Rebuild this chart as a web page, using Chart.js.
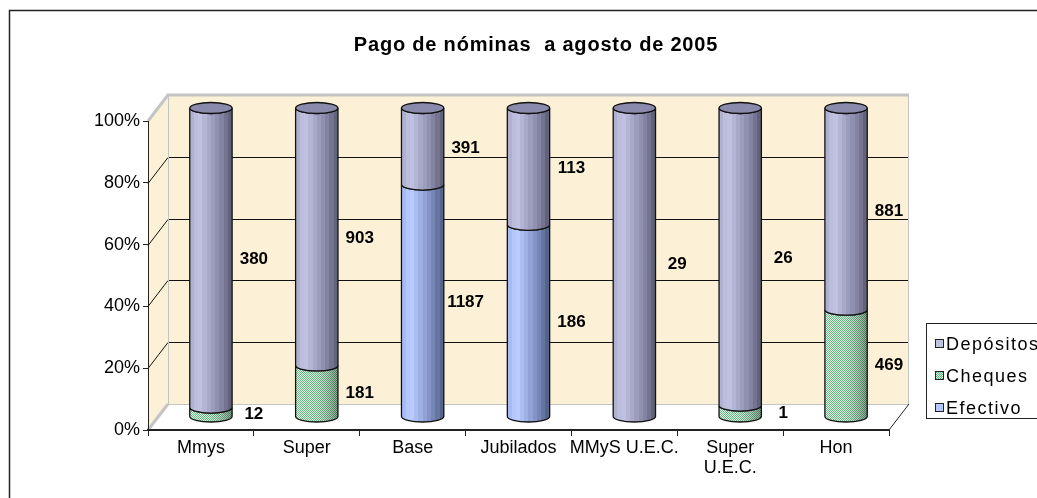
<!DOCTYPE html>
<html>
<head>
<meta charset="utf-8">
<script src="https://cdn.jsdelivr.net/npm/chart.js@4.4.1/dist/chart.umd.min.js"></script>
<style>
  html, body { margin: 0; padding: 0; background: #fff; }
  #wrap { width: 1037px; height: 498px; }
</style>
</head>
<body>
<div id="wrap"><canvas id="nominaChart"></canvas></div>
<script>
const categories = ['Mmys', 'Super', 'Base', 'Jubilados', 'MMyS U.E.C.', ['Super', 'U.E.C.'], 'Hon'];
const efectivo = [0, 0, 1187, 186, 0, 0, 0];
const cheques = [12, 181, 0, 0, 0, 1, 469];
const depositos = [380, 903, 391, 113, 29, 26, 881];
const yTicks = [0, 20, 40, 60, 80, 100];

const FONT = "'Liberation Sans', Arial, sans-serif";
// offset from the front plane to the back wall
const depth = { dx: 20, dy: -26 };

const totals = categories.map((_, i) => efectivo[i] + cheques[i] + depositos[i]);
const share = arr => arr.map((v, i) => v / totals[i] * 100);

const looks = {
  'Efectivo': {
    bands: ['#a8bcf4', '#b4c8ff', '#b8ccff', '#aabef2', '#9eb0e4', '#92a2d6', '#8494c6', '#7686b6', '#6676a2', '#56648a'],
    cap: '#93a6e0', swatch: '#b4c8ff'
  },
  'Cheques': {
    pattern: true, cap: '#8ccaa2'
  },
  'Depósitos': {
    bands: ['#b0b0d0', '#bcbcdc', '#c0c0e0', '#b4b4d4', '#a8a8c8', '#9c9cbc', '#9090b0', '#8484a2', '#747492', '#626278'],
    cap: '#8a8aac', swatch: '#c0c0e0'
  }
};

let checkPattern;
function getPattern(ctx) {
  if (!checkPattern) {
    const c = document.createElement('canvas');
    c.width = 2; c.height = 2;
    const p = c.getContext('2d');
    p.fillStyle = '#d6f1df';
    p.fillRect(0, 0, 2, 2);
    p.fillStyle = '#5eae7b';
    p.fillRect(0, 0, 1, 1);
    p.fillRect(1, 1, 1, 1);
    checkPattern = ctx.createPattern(c, 'repeat');
  }
  return checkPattern;
}

function bandGradient(ctx, x0, x1, bands) {
  const g = ctx.createLinearGradient(x0, 0, x1, 0);
  const n = bands.length;
  bands.forEach((c, k) => {
    g.addColorStop(k / n, c);
    g.addColorStop(Math.max(k / n, (k + 1) / n - 0.001), c);
  });
  return g;
}

function poly(ctx, pts) {
  ctx.beginPath();
  pts.forEach(([x, y], k) => k ? ctx.lineTo(x, y) : ctx.moveTo(x, y));
  ctx.closePath();
}

function line(ctx, x0, y0, x1, y1) {
  ctx.beginPath();
  ctx.moveTo(x0, y0);
  ctx.lineTo(x1, y1);
  ctx.stroke();
}

const wallPlugin = {
  id: 'walls',
  beforeDraw(chart) {
    const { ctx, chartArea: a } = chart;
    const y = chart.scales.y;
    const { dx, dy } = depth;
    const L = a.left, R = a.right, T = a.top, B = a.bottom;
    ctx.save();
    ctx.fillStyle = '#fff';
    ctx.fillRect(0, 0, chart.width, chart.height);

    ctx.strokeStyle = '#222';
    ctx.lineWidth = 1.5;
    ctx.strokeRect(9.5, 10.5, chart.width + 20, chart.height + 20);

    // back wall and side wall
    ctx.fillStyle = '#fcf1d6';
    ctx.fillRect(L + dx, T + dy, R - L, B - T);
    poly(ctx, [[L, T], [L + dx, T + dy], [L + dx, B + dy], [L, B]]);
    ctx.fill();
    // floor
    ctx.fillStyle = '#fff';
    poly(ctx, [[L, B], [L + dx, B + dy], [R + dx, B + dy], [R, B]]);
    ctx.fill();

    ctx.strokeStyle = '#111';
    ctx.lineWidth = 1;
    yTicks.slice(1, -1).forEach(v => {
      const py = Math.round(y.getPixelForValue(v)) + 0.5;
      line(ctx, L, py, L + dx, py + dy);
      line(ctx, L + dx, py + dy, R + dx, py + dy);
    });

    ctx.strokeStyle = '#c4c4c4';
    ctx.lineWidth = 1;
    line(ctx, L + dx + 0.5, T + dy, L + dx + 0.5, B + dy);
    line(ctx, R + dx - 0.5, T + dy, R + dx - 0.5, B + dy);
    line(ctx, L + dx, B + dy + 0.5, R + dx, B + dy + 0.5);
    ctx.lineWidth = 3;
    line(ctx, L + dx - 1, T + dy, R + dx, T + dy);
    line(ctx, L, T, L + dx, T + dy);
    line(ctx, L, B, L + dx, B + dy);

    ctx.strokeStyle = '#222';
    ctx.lineWidth = 1;
    line(ctx, R, B, R + dx, B + dy);
    ctx.restore();
  }
};

function cylinderBody(ctx, cx, top, bottom, r, ry) {
  ctx.beginPath();
  ctx.moveTo(cx - r, top);
  ctx.lineTo(cx - r, bottom);
  ctx.ellipse(cx, bottom, r, ry, 0, Math.PI, 0, true);
  ctx.lineTo(cx + r, top);
  ctx.ellipse(cx, top, r, ry, 0, 0, Math.PI, false);
  ctx.closePath();
}

const cylinderPlugin = {
  id: 'cylinders',
  beforeDatasetsDraw(chart) {
    const ctx = chart.ctx;
    const sets = chart.data.datasets;
    const hx = depth.dx / 2, hy = depth.dy / 2;
    ctx.save();
    ctx.lineWidth = 1.3;
    ctx.strokeStyle = '#111';
    categories.forEach((_, i) => {
      let last = -1;
      sets.forEach((ds, d) => { if (ds.counts[i] > 0) last = d; });
      sets.forEach((ds, d) => {
        if (!(ds.counts[i] > 0)) return;
        const el = chart.getDatasetMeta(d).data[i];
        const look = looks[ds.label];
        const cx = el.x + hx, r = el.width / 2, ry = r * 0.26;
        const top = el.y + hy, bottom = el.base + hy;
        cylinderBody(ctx, cx, top, bottom, r, ry);
        if (look.pattern) {
          ctx.fillStyle = getPattern(ctx);
          ctx.fill();
          const g = ctx.createLinearGradient(cx - r, 0, cx + r, 0);
          g.addColorStop(0, 'rgba(255,255,255,0.15)');
          g.addColorStop(0.3, 'rgba(255,255,255,0.05)');
          g.addColorStop(1, 'rgba(0,0,0,0.35)');
          ctx.fillStyle = g;
          ctx.fill();
        } else {
          ctx.fillStyle = bandGradient(ctx, cx - r, cx + r, look.bands);
          ctx.fill();
        }
        ctx.stroke();
        if (d === last) {
          ctx.beginPath();
          ctx.ellipse(cx, top, r, ry, 0, 0, Math.PI * 2);
          if (look.pattern) {
            ctx.fillStyle = getPattern(ctx);
            ctx.fill();
          }
          ctx.fillStyle = look.cap;
          ctx.fill();
          ctx.stroke();
        }
      });
    });
    ctx.restore();
    return false;
  }
};

const labelPlugin = {
  id: 'extras',
  afterDraw(chart) {
    const ctx = chart.ctx;
    const xs = chart.scales.x;
    const step = xs.width / categories.length;
    ctx.save();
    // value labels
    ctx.fillStyle = '#000';
    ctx.font = 'bold 17px ' + FONT;
    ctx.textAlign = 'center';
    ctx.textBaseline = 'middle';
    chart.data.datasets.forEach((ds, d) => {
      chart.getDatasetMeta(d).data.forEach((el, i) => {
        if (!(ds.counts[i] > 0)) return;
        ctx.fillText(String(ds.counts[i]), el.x + step / 2, (el.y + el.base) / 2 + depth.dy / 2 + 2);
      });
    });

    // title
    ctx.font = 'bold 20px ' + FONT;
    ctx.letterSpacing = '0.8px';
    ctx.fillText('Pago de nóminas  a agosto de 2005', 536, 45);

    // legend
    ctx.letterSpacing = '1.5px';
    ctx.strokeStyle = '#222';
    ctx.lineWidth = 1;
    ctx.strokeRect(926.5, 323.5, 140, 95);
    ctx.font = '18px ' + FONT;
    ctx.textAlign = 'left';
    const items = chart.data.datasets.slice().reverse();
    items.forEach((ds, k) => {
      const cy = 344 + k * 32;
      const look = looks[ds.label];
      ctx.fillStyle = look.pattern ? getPattern(ctx) : look.swatch;
      ctx.fillRect(935.5, cy - 4.5, 8, 8);
      ctx.strokeRect(935.5, cy - 4.5, 8, 8);
      ctx.fillStyle = '#000';
      ctx.fillText(ds.label, 946, cy + 1);
    });
    ctx.restore();
  }
};

new Chart(document.getElementById('nominaChart'), {
  type: 'bar',
  data: {
    labels: categories,
    datasets: [
      { label: 'Efectivo', data: share(efectivo), counts: efectivo, backgroundColor: '#b4c8ff' },
      { label: 'Cheques', data: share(cheques), counts: cheques, backgroundColor: '#9ad8b0' },
      { label: 'Depósitos', data: share(depositos), counts: depositos, backgroundColor: '#c0c0e0' }
    ]
  },
  options: {
    responsive: true,
    maintainAspectRatio: false,
    animation: false,
    layout: { padding: { left: 0, top: 121, right: 148, bottom: 0 } },
    datasets: { bar: { categoryPercentage: 1, barPercentage: 0.4 } },
    plugins: {
      legend: { display: false },
      title: { display: false },
      tooltip: { enabled: false }
    },
    scales: {
      x: {
        stacked: true,
        grid: { offset: true, drawOnChartArea: false, tickLength: 6, color: '#222' },
        border: { color: '#222', width: 2 },
        ticks: {
          color: '#000', maxRotation: 0, autoSkip: false, padding: 2,
          font: { family: FONT, size: 18, lineHeight: 1.1 }
        },
        afterFit: s => { s.height = 68; }
      },
      y: {
        stacked: true,
        min: 0,
        max: 100,
        afterBuildTicks: s => { s.ticks = yTicks.map(v => ({ value: v })); },
        grid: { drawOnChartArea: false, tickLength: 5, color: '#222' },
        border: { color: '#222', width: 1 },
        ticks: {
          color: '#000', padding: 3,
          font: { family: FONT, size: 18 },
          callback: v => v + '%'
        },
        afterFit: s => { s.width = 148; }
      }
    }
  },
  plugins: [wallPlugin, cylinderPlugin, labelPlugin]
});
</script>
</body>
</html>
